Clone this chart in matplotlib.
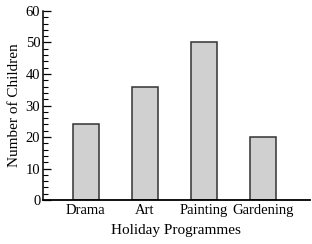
import matplotlib
matplotlib.use("Agg")
import matplotlib.pyplot as plt
from matplotlib.ticker import MultipleLocator

programmes = ["Drama", "Art", "Painting", "Gardening"]
children = [24, 36, 50, 20]

plt.rcParams['font.family'] = ['Liberation Serif', 'DejaVu Serif']

fig = plt.figure(figsize=(3.12, 2.44), dpi=100)
ax = fig.add_axes([0.138, 0.18, 0.855, 0.775])

x = range(len(programmes))
ax.bar(x, children, width=0.44, color='#d0d0d0', edgecolor='#333333', linewidth=1.1)

ax.set_xlim(-0.72, 3.8)
ax.set_ylim(0, 60)
ax.yaxis.set_major_locator(MultipleLocator(10))
ax.yaxis.set_minor_locator(MultipleLocator(2))
ax.set_xticks(list(x))
ax.set_xticklabels(programmes, fontsize=10.5)
ax.tick_params(axis='y', which='major', direction='in', length=6, width=0.9, labelsize=10.5, pad=2)
ax.tick_params(axis='y', which='minor', direction='in', length=3.5, width=0.8)
ax.tick_params(axis='x', length=0, pad=3)

for s in ['top', 'right']:
    ax.spines[s].set_visible(False)
ax.spines['left'].set_linewidth(1.1)
ax.spines['bottom'].set_linewidth(1.3)

ax.set_xlabel("Holiday Programmes", fontsize=11, labelpad=5)
ax.set_ylabel("Number of Children", fontsize=11, labelpad=3)

fig.savefig("out.png", dpi=100)
